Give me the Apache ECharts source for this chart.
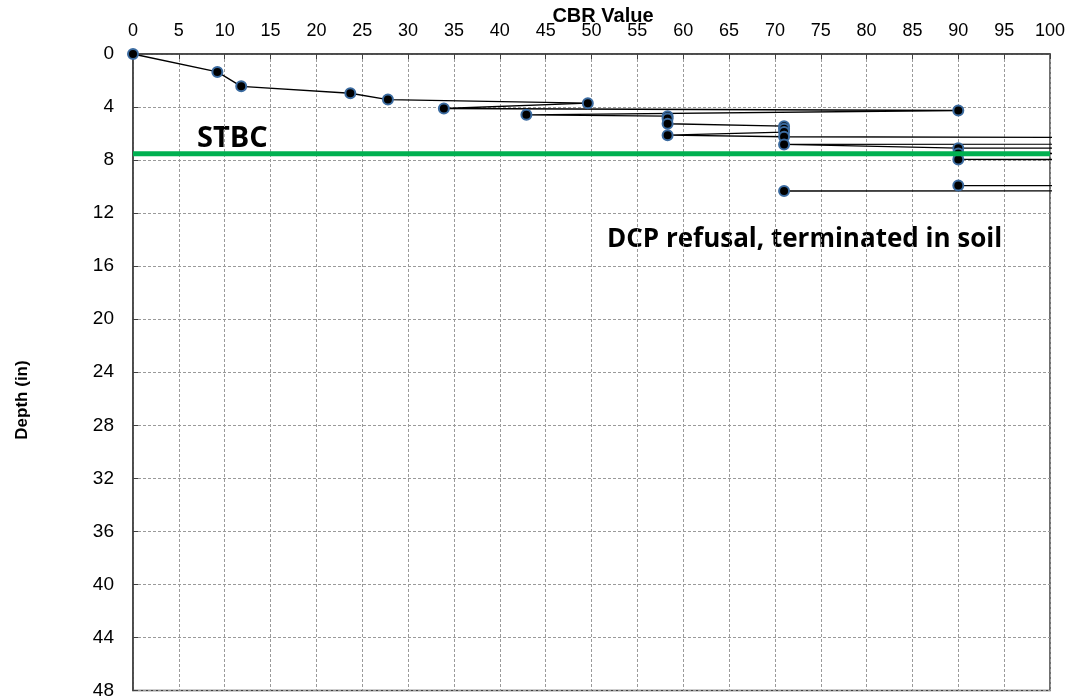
<!DOCTYPE html>
<html>
<head>
<meta charset="utf-8">
<script src="https://cdn.jsdelivr.net/npm/echarts@6/dist/echarts.min.js"></script>
<style>
html,body{margin:0;padding:0;background:#fff;}
#chart{width:1086px;height:700px;}
</style>
</head>
<body>
<div id="chart"></div>
<script>
// CBR value (x) and depth in inches (y), in blow order. Values above 100 run off the chart.
var cbrValues   = [0, 9.2, 11.8, 23.7, 27.8, 49.6, 33.9, 90, 42.9, 58.3, 58.3, 58.3, 71, 71, 71, 58.3, 71, 300, 71, 90, 500, 90, 500, 90, 800, 1500, 90, 1000, 71, 1000];
var depthValues = [0, 1.35, 2.44, 2.96, 3.44, 3.71, 4.11, 4.26, 4.59, 4.69, 4.86, 5.26, 5.44, 5.64, 5.89, 6.12, 6.24, 6.6, 6.82, 7.1, 7.25, 7.5, 7.6, 7.95, 8.5, 9.8, 9.92, 10.1, 10.33, 10.45];
var stbcDepth = 7.52;
var stbcRange = [0, 100];
var xTicks = {min: 0, max: 100, step: 5};
var yTicks = {min: 0, max: 48, step: 4};
var xTitle = 'CBR Value';
var yTitle = 'Depth (in)';
var stbcLabel = 'STBC';
var noteLabel = 'DCP refusal, terminated in soil';

var points = cbrValues.map(function (v, i) { return [v, depthValues[i]]; });
var stbcLine = stbcRange.map(function (v) { return [v, stbcDepth]; });

var chart = echarts.init(document.getElementById('chart'), null, {renderer: 'canvas'});
var gridLine = {show: true, lineStyle: {color: '#9a9a9a', width: 1, type: [3, 2]}};
chart.setOption({
  animation: false,
  backgroundColor: '#ffffff',
  grid: {left: 133, right: 36, top: 54, bottom: 9, show: true, borderColor: '#404040', borderWidth: 1.5, backgroundColor: 'transparent'},
  xAxis: {
    type: 'value', position: 'top', min: xTicks.min, max: xTicks.max, interval: xTicks.step,
    axisLine: {show: true, lineStyle: {color: '#404040', width: 1.5}},
    axisTick: {show: true, inside: true, length: 5, lineStyle: {color: '#404040'}},
    axisLabel: {margin: 14, fontFamily: 'Liberation Sans', fontSize: 18, color: '#000'},
    splitLine: gridLine
  },
  yAxis: {
    type: 'value', inverse: true, min: yTicks.min, max: yTicks.max, interval: yTicks.step,
    axisLine: {show: true, lineStyle: {color: '#404040', width: 1.5}},
    axisTick: {show: true, inside: true, length: 5, lineStyle: {color: '#404040'}},
    axisLabel: {margin: 19, fontFamily: 'Liberation Sans', fontSize: 19, color: '#000'},
    splitLine: gridLine
  },
  series: [
    {
      type: 'line', data: points, clip: true, z: 3,
      symbol: 'circle', symbolSize: 10, showAllSymbol: true,
      lineStyle: {color: '#000', width: 1.3},
      itemStyle: {color: '#000', borderColor: '#3b6ba0', borderWidth: 2}
    },
    {
      type: 'line', data: stbcLine, clip: true, z: 4,
      symbol: 'none',
      lineStyle: {color: '#00b050', width: 5}
    }
  ],
  graphic: [
    {type: 'text', x: 603, y: 16, style: {text: xTitle, font: 'bold 20px "Liberation Sans"', fill: '#000', textAlign: 'center', textVerticalAlign: 'middle'}},
    {type: 'text', x: 22, y: 400, rotation: Math.PI / 2, style: {text: yTitle, font: 'bold 17px "Liberation Sans"', fill: '#000', textAlign: 'center', textVerticalAlign: 'middle'}},
    {type: 'text', x: 197, y: 139, style: {text: stbcLabel, font: 'bold 29px "Open Sans"', fill: '#000', textAlign: 'left', textVerticalAlign: 'middle'}},
    {type: 'text', x: 607, y: 240, style: {text: noteLabel, font: 'bold 26px "Open Sans"', fill: '#000', textAlign: 'left', textVerticalAlign: 'middle'}}
  ]
});
</script>
</body>
</html>
